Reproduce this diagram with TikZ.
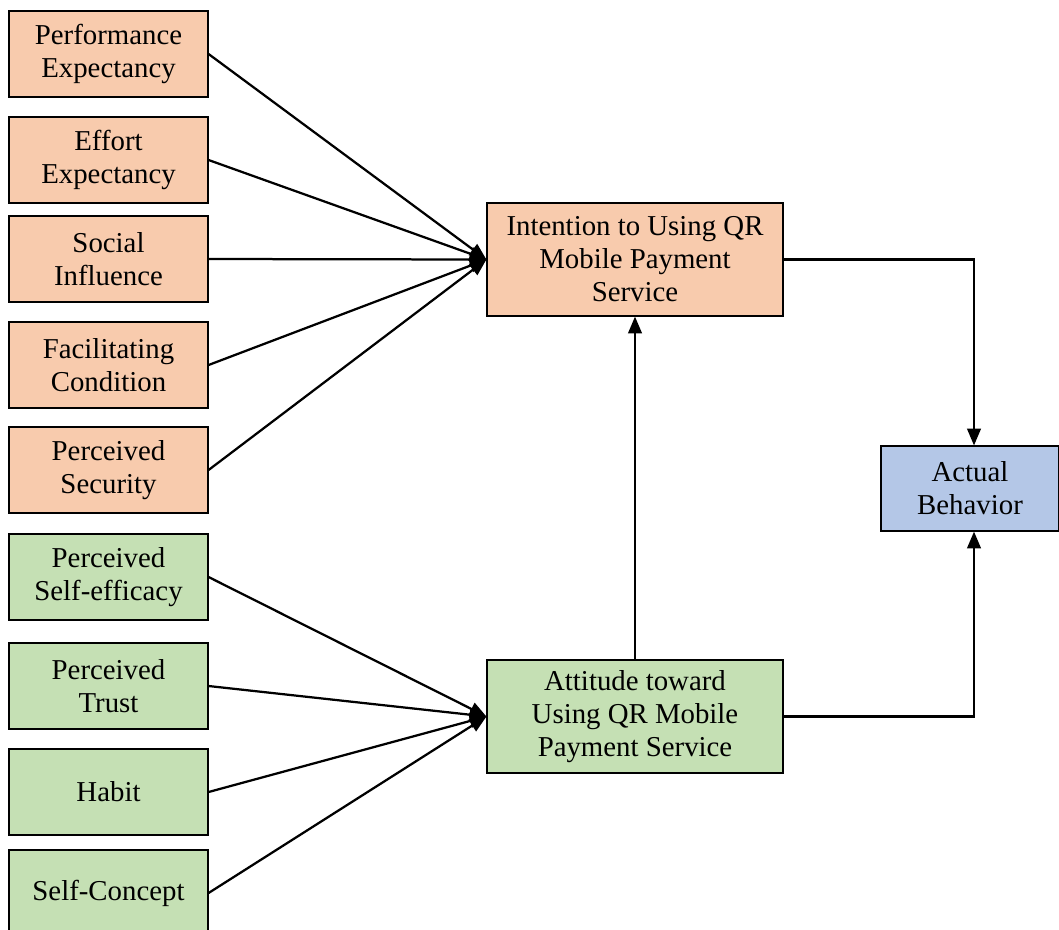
\documentclass[tikz,border=0pt]{standalone}
\usepackage{fontspec}
\setmainfont{Liberation Serif}
\usetikzlibrary{arrows.meta}

\definecolor{orangebox}{HTML}{F8CBAD}
\definecolor{greenbox}{HTML}{C5E0B4}
\definecolor{bluebox}{HTML}{B4C7E7}

\begin{document}
\begin{tikzpicture}[line width = 1.4pt,
                    every node/.style = {font=\fontsize{20.5}{23.5}\selectfont, align=center},
                    factor/.style = {rectangle, draw, line width=0.8pt, minimum width=4.975cm, minimum height=2.15cm, inner sep=0pt},
                    orange/.style = {factor, fill=orangebox},
                    green/.style = {factor, fill=greenbox},
                    construct/.style = {rectangle, draw, line width=0.8pt, minimum width=7.4cm, minimum height=2.825cm, inner sep=0pt},
                    arr/.style = {line width=1.6pt, -{Triangle[length=0.42cm, width=0.34cm]}}]

\useasboundingbox (0,0) rectangle (26.475,-23.225);
\clip (0,0) rectangle (26.475,-23.225);

% factors of intention
\node [orange] (PE) at (2.7125,-1.35) {Performance\\Expectancy};
\node [orange] (EE) at (2.7125,-4.0) {Effort\\Expectancy};
\node [orange] (SI) at (2.7125,-6.475) {Social\\Influence};
\node [orange] (FC) at (2.7125,-9.125) {Facilitating\\Condition};
\node [orange] (PS) at (2.7125,-11.75) {Perceived\\Security};

% factors of attitude
\node [green] (PSE) at (2.7125,-14.425) {Perceived\\Self-efficacy};
\node [green] (PT) at (2.7125,-17.15) {Perceived\\Trust};
\node [green] (HB) at (2.7125,-19.8) {Habit};
\node [green] (SC) at (2.7125,-22.325) {Self-Concept};

% main constructs
\node [construct, fill=orangebox] (INT) at (15.875,-6.4875) {Intention to Using QR\\Mobile Payment\\Service};
\node [construct, fill=greenbox] (ATT) at (15.875,-17.9125) {Attitude toward\\Using QR Mobile\\Payment Service};
\node [rectangle, draw, line width=0.8pt, fill=bluebox, minimum width=4.45cm, minimum height=2.125cm] (AB) at (24.25,-12.2125) {Actual\\Behavior};

\coordinate (C1) at (24.35,-6.4875);
\coordinate (C2) at (24.35,-17.9125);

\draw[arr] (PE.east)--(INT.west);
\draw[arr] (EE.east)--(INT.west);
\draw[arr] (SI.east)--(INT.west);
\draw[arr] (FC.east)--(INT.west);
\draw[arr] (PS.east)--(INT.west);

\draw[arr] (PSE.east)--(ATT.west);
\draw[arr] (PT.east)--(ATT.west);
\draw[arr] (HB.east)--(ATT.west);
\draw[arr] (SC.east)--(ATT.west);

\draw[arr] (ATT.north)--(INT.south);
\draw[arr] (INT.east)--(C1)--(C1 |- AB.north);
\draw[arr] (ATT.east)--(C2)--(C2 |- AB.south);
\end{tikzpicture}
\end{document}
